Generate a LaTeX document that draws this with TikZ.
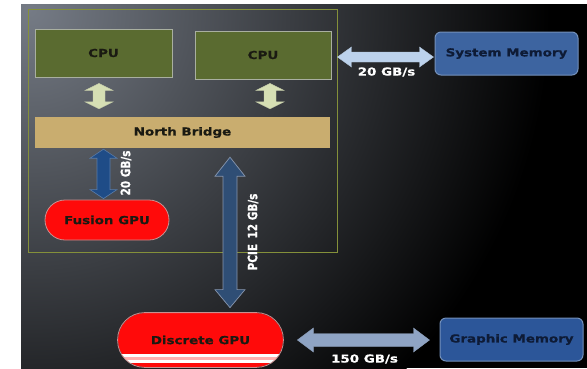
\documentclass[tikz,border=0pt]{standalone}
\usepackage{fontspec}
\usepackage{graphicx}
\newfontfamily\lblfont{DejaVu Sans}[FakeStretch=1.22, FakeBold=0.6]
\newfontfamily\rotfont{DejaVu Sans}[FakeBold=0.5]
\usetikzlibrary{calc}
\definecolor{bgtop}{HTML}{757B85}
\definecolor{outerbox}{HTML}{84903A}
\definecolor{cpufill}{HTML}{5A6B30}
\definecolor{cpuborder}{HTML}{A9AFA0}
\definecolor{nbfill}{HTML}{C9AD6F}
\definecolor{gpured}{HTML}{FF0A0A}
\definecolor{gpuborder}{HTML}{C89090}
\definecolor{sysfill}{HTML}{3D64A0}
\definecolor{gmfill}{HTML}{2C5699}
\definecolor{memborder}{HTML}{7390BA}
\definecolor{memtext}{HTML}{0E1B36}
\definecolor{txtdark}{HTML}{1A1A12}
\definecolor{lgreen}{HTML}{D6DFB4}
\definecolor{dblue}{HTML}{1F4C87}
\definecolor{dblueb}{HTML}{5A7CA8}
\definecolor{pcie}{HTML}{2F4E75}
\definecolor{pcieborder}{HTML}{8796AE}
\definecolor{lblue}{HTML}{BCD2EC}
\definecolor{sblue}{HTML}{8FA4C4}
\definecolor{pinkstripe}{HTML}{FFB0B0}

% vertical double arrow: style, top tip, bottom tip, half shaft, half head, top head length, bottom head length
\newcommand\vdarrow[7]{%
  \filldraw[#1] let \p1=#2, \p2=#3 in
    (\x1,\y1) -- (\x1+#5,\y1-#6) -- (\x1+#4,\y1-#6) -- (\x1+#4,\y2+#7) -- (\x1+#5,\y2+#7)
    -- (\x1,\y2) -- (\x1-#5,\y2+#7) -- (\x1-#4,\y2+#7) -- (\x1-#4,\y1-#6) -- (\x1-#5,\y1-#6) -- cycle;}
% horizontal double arrow: style, left tip, right tip, half shaft, half head, head length
\newcommand\hdarrow[6]{%
  \filldraw[#1] let \p1=#2, \p2=#3 in
    (\x1,\y1) -- (\x1+#6,\y1+#5) -- (\x1+#6,\y1+#4) -- (\x2-#6,\y1+#4) -- (\x2-#6,\y1+#5)
    -- (\x2,\y1) -- (\x2-#6,\y1-#5) -- (\x2-#6,\y1-#4) -- (\x1+#6,\y1-#4) -- (\x1+#6,\y1-#5) -- cycle;}

\begin{document}
\begin{tikzpicture}[x=1pt,y=-1pt,
  lbl/.style={font=\lblfont\bfseries\fontsize{11}{13}\selectfont},
  cpubox/.style={draw=cpuborder, fill=cpufill, line width=0.8pt, inner sep=0pt, lbl, text=txtdark},
  nbbox/.style={fill=nbfill, inner sep=0pt, lbl, text=txtdark},
  gpubox/.style={fill=gpured, draw=gpuborder, line width=0.8pt, inner sep=0pt, lbl, text=txtdark},
  membox/.style={draw=memborder, line width=1pt, rounded corners=6pt, inner sep=0pt, lbl, text=memtext,
    minimum width=143pt, minimum height=43pt},
  ratelbl/.style={lbl, text=white, inner sep=0pt},
  rotlbl/.style={font=\rotfont\bfseries\fontsize{10.5}{12}\selectfont, text=white, rotate=90, inner sep=0pt},
  greenarrow/.style={fill=lgreen, draw=lgreen!80!gray, line width=0.4pt},
  fusarrow/.style={fill=dblue, draw=dblueb, line width=0.6pt},
  pciearrow/.style={fill=pcie, draw=pcieborder, line width=0.7pt},
  sysarrow/.style={fill=lblue, draw=lblue!85!gray, line width=0.4pt},
  gmarrow/.style={fill=sblue, draw=sblue!85!gray, line width=0.4pt}]
\useasboundingbox (0,0) rectangle (587,368);
\fill[white] (0,0) rectangle (587,368);
\begin{scope}
  \clip (21,4) rectangle (587,368);
  \fill[black] (21,4) rectangle (587,368);
  \shade[inner color=bgtop, outer color=black] (30,10) circle (520pt);
\end{scope}

\node[draw=outerbox, line width=0.9pt, minimum width=309pt, minimum height=243pt, inner sep=0pt] (outer) at (182.5,130.5) {};

\node[cpubox, minimum width=137pt, minimum height=48pt] (cpu1) at (103.5,53) {CPU};
\node[cpubox, minimum width=136pt, minimum height=48pt] (cpu2) at (263,55) {CPU};
\node[nbbox, minimum width=295pt, minimum height=31pt] (nb) at (182.5,132.5) {\raisebox{-4pt}{North Bridge}};
\node[gpubox, rounded corners=20pt, minimum width=124pt, minimum height=40pt] (fgpu) at (107,220) {Fusion GPU};
\node[gpubox, draw=none, rounded corners=27pt, minimum width=165pt, minimum height=54pt] (dgpu) at (200.5,340) {Discrete GPU};
\begin{scope}
  \clip[rounded corners=27pt] (dgpu.north west) rectangle (dgpu.south east);
  \fill[white] (100,353.5) rectangle (300,357);
  \fill[pinkstripe] (100,357) rectangle (300,359.5);
  \fill[white] (100,359.5) rectangle (300,362.5);
\end{scope}
\draw[gpuborder, line width=0.8pt, rounded corners=27pt] (dgpu.north west) rectangle (dgpu.south east);

\node[membox, fill=sysfill] (smem) at (506.5,53.5) {\raisebox{-1.5pt}{System Memory}};
\node[membox, fill=gmfill] (gmem) at (511.5,339.5) {Graphic Memory};

% CPU <-> North Bridge
\vdarrow{greenarrow}{($(cpu1.south)+(-4.5,6)$)}{($(nb.north)+(0,-8)$)}{6pt}{14pt}{7pt}{7pt}
\vdarrow{greenarrow}{($(cpu2.south)+(7,4)$)}{($(nb.north)+(0,-8)$)}{6pt}{14pt}{7pt}{7pt}
% North Bridge <-> Fusion GPU
\vdarrow{fusarrow}{($(nb.south -| fgpu.north)+(-3.5,1)$)}{($(fgpu.north)+(0,-1)$)}{6.5pt}{13.5pt}{9pt}{9pt}
% North Bridge <-> Discrete GPU
\vdarrow{pciearrow}{($(nb.south)+(47.5,9)$)}{($(dgpu.north)+(29.5,-5)$)}{7pt}{15pt}{19pt}{18pt}
% CPU box <-> System Memory
\hdarrow{sysarrow}{($(outer.east |- smem.west)+(0,3.5)$)}{($(smem.west)+(-1,3.5)$)}{5pt}{10pt}{14pt}
% Discrete GPU <-> Graphic Memory
\hdarrow{gmarrow}{($(dgpu.east)+(14,0)$)}{($(gmem.west)+(-10,0)$)}{6.5pt}{12pt}{16pt}

\node[ratelbl] (r1) at (386.5,72) {20 GB/s};
\node[ratelbl] (r2) at (364.5,359) {150 GB/s};
\node[rotlbl] (r3) at (126,173) {\scalebox{1}[1.22]{20 GB/s}};
\node[rotlbl] (r4) at (253,232) {\scalebox{1}[1.22]{PCIE\, 12 GB/s}};
\end{tikzpicture}
\end{document}
